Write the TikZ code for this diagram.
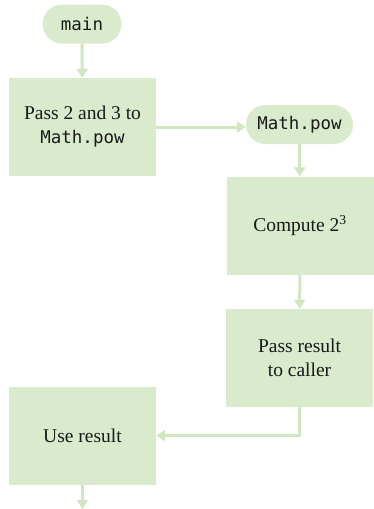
\documentclass[tikz,border=0pt]{standalone}
\usepackage{fontspec}
\setmainfont{Liberation Serif}
\newfontfamily\monof{DejaVu Sans Mono}
\usetikzlibrary{arrows.meta}
\definecolor{boxfill}{RGB}{217,235,204}
\definecolor{arrowc}{RGB}{208,230,192}
\begin{document}
\begin{tikzpicture}[x=1pt,y=1pt,
  txt/.style={font=\fontsize{19.5}{24}\selectfont, text=black!90, align=center},
  pill/.style={txt, fill=boxfill, draw=none, rounded corners=19.5pt, minimum height=39pt, inner sep=0pt},
  stepbox/.style={txt, fill=boxfill, draw=none, minimum width=147pt, minimum height=98pt, inner sep=0pt},
  flow/.style={draw=arrowc, line width=3pt, -{Triangle[width=11pt,length=9pt]}}
]
\useasboundingbox (0,0) rectangle (373,-509);
\node[pill, minimum width=79pt] (m) at (82,-24) {\monof\fontsize{17.5}{24}\selectfont main};
\node[stepbox] (b1) at (82.5,-127) {Pass 2 and 3 to\\{\monof\fontsize{17.5}{24}\selectfont Math.pow}};
\node[pill, minimum width=107pt] (p2) at (299.5,-124.5) {\monof\fontsize{17.5}{24}\selectfont Math.pow};
\node[stepbox] (b2) at (300,-225.5) {Compute 2\textsuperscript{3}};
\node[stepbox] (b3) at (299.5,-358) {Pass result\\to caller};
\node[stepbox] (b4) at (82.5,-435.5) {Use result};
\coordinate (end) at (82.5,-509);
\draw[flow] (m) -- (b1);
\draw[flow] (b1.east) -- (b1.east -| p2.west);
\draw[flow] (p2) -- (b2);
\draw[flow] (b2) -- (b3);
\draw[flow] (b3.south) |- (b4.east);
\draw[flow] (b4) -- (end);
\end{tikzpicture}
\end{document}
